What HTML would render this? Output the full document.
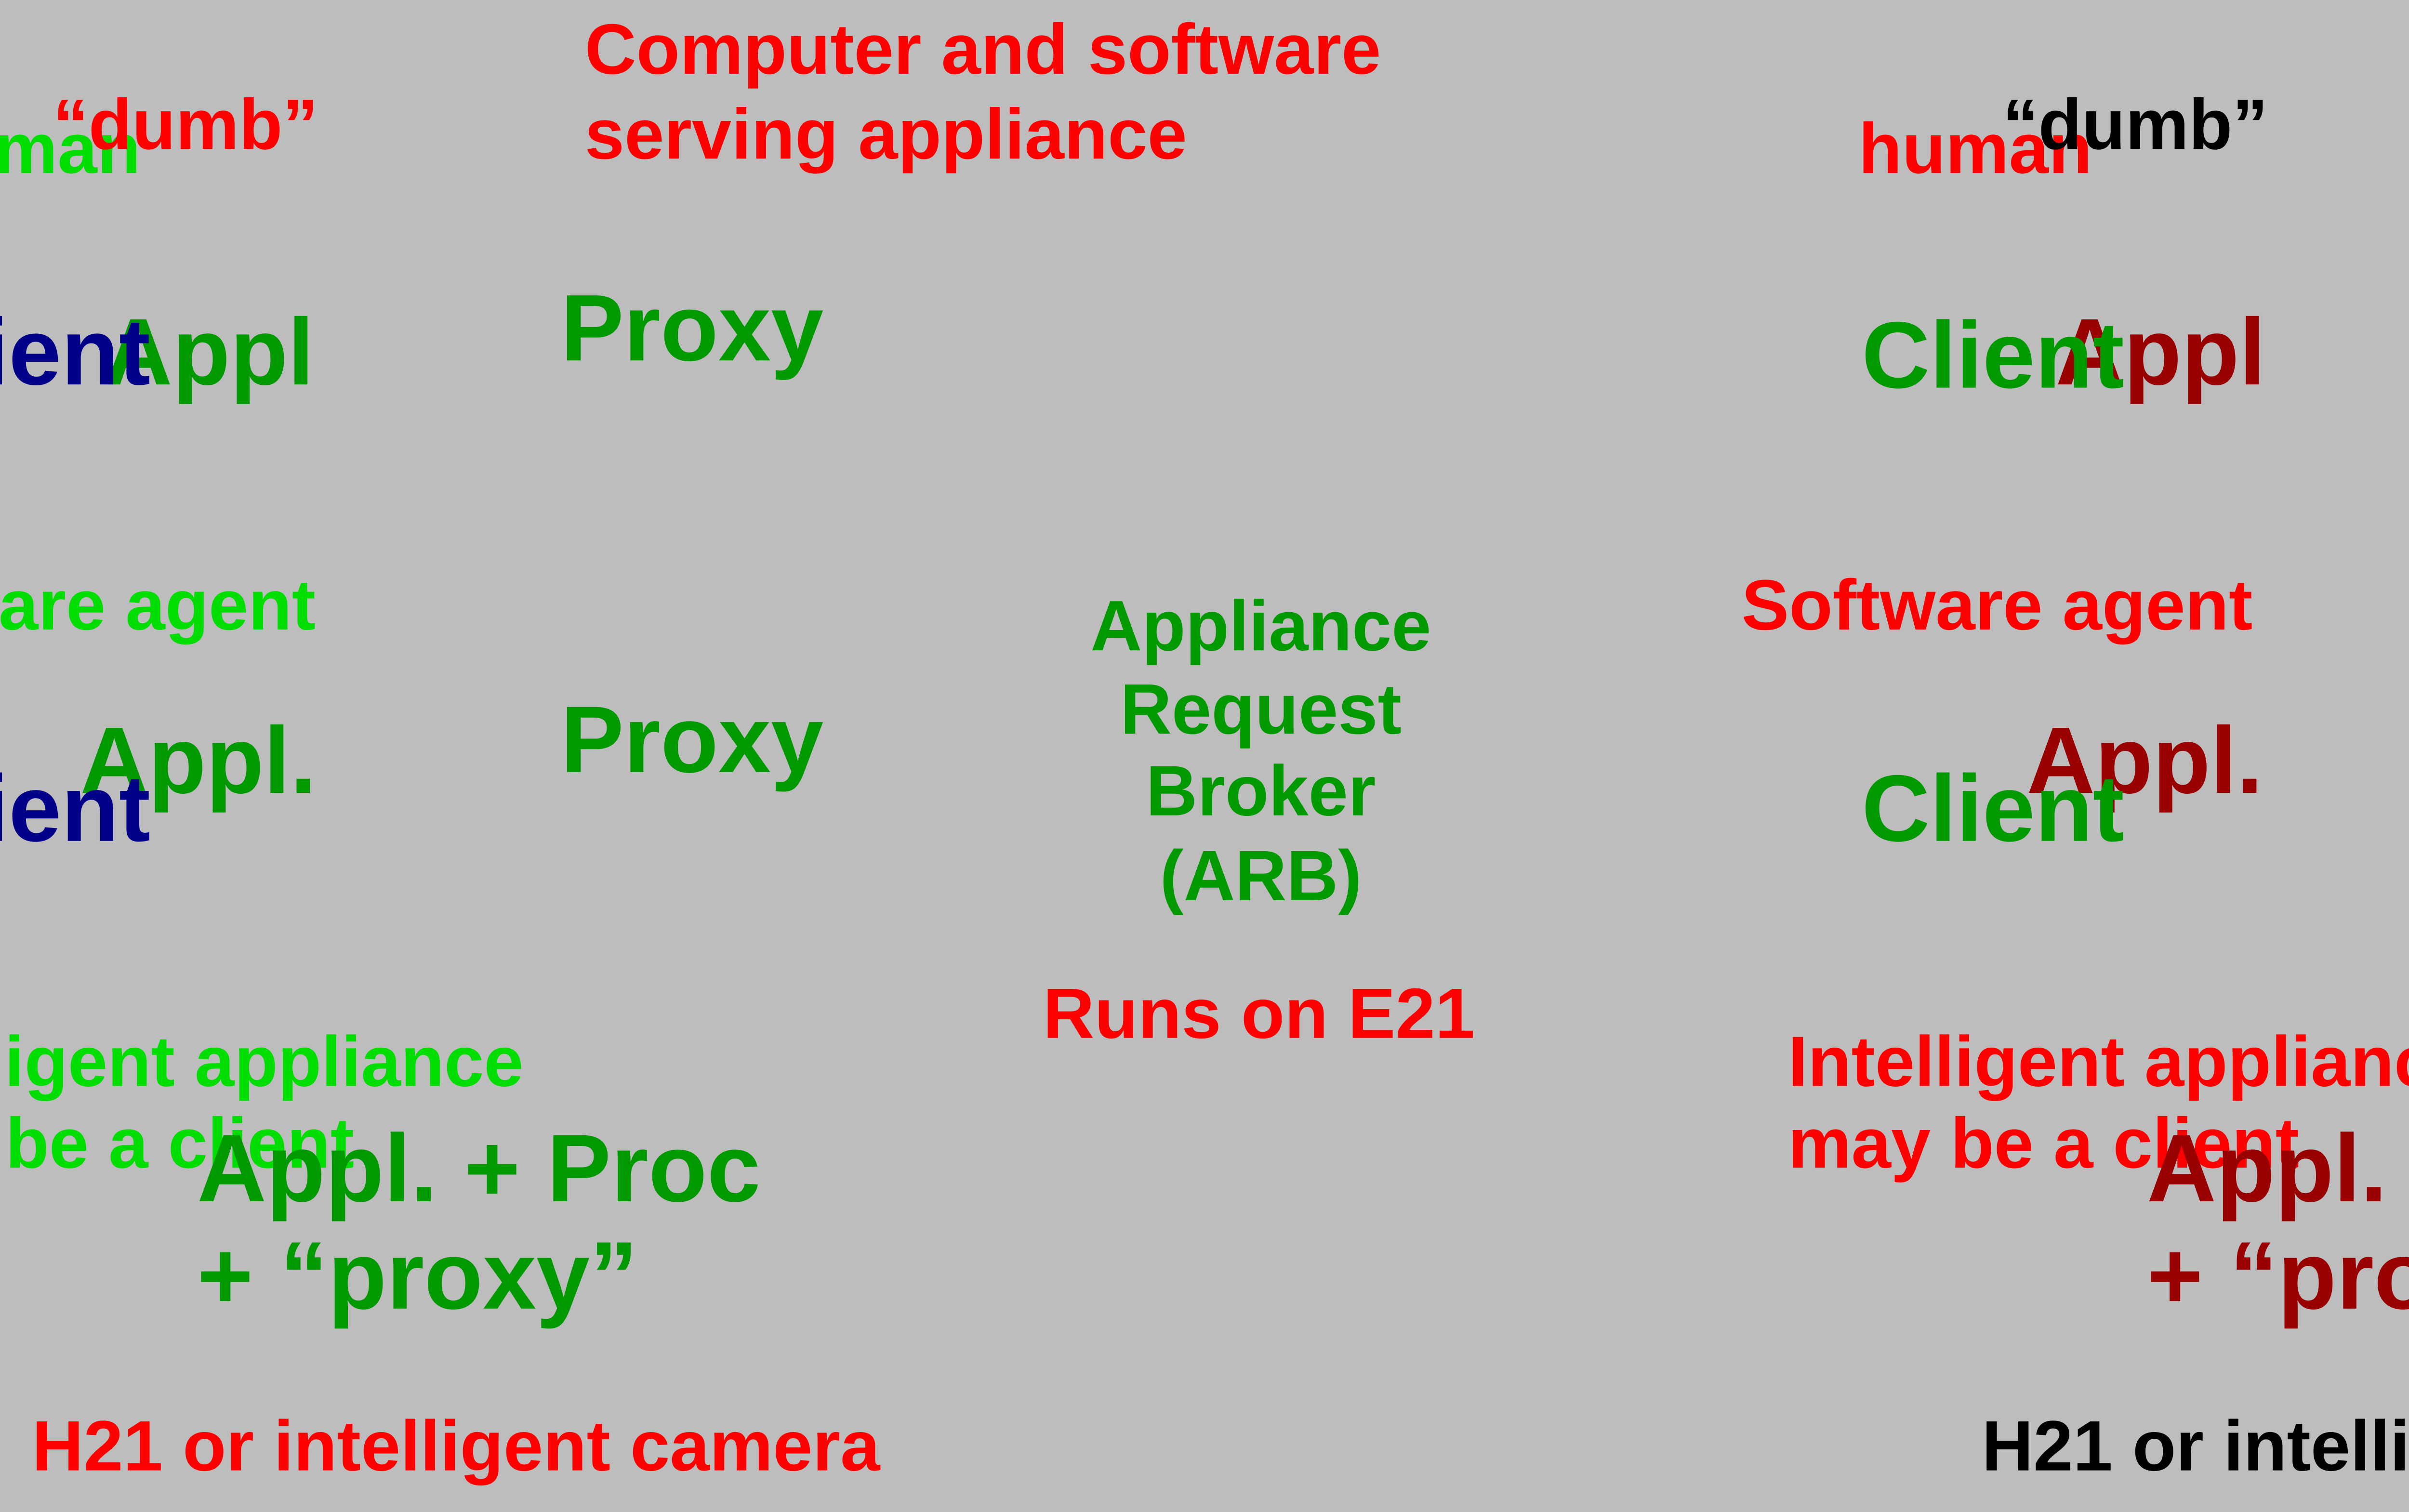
<!DOCTYPE html>
<html><head><meta charset="utf-8"><style>
html,body{margin:0;padding:0;width:5214px;height:3139px;overflow:hidden;background:#bdbdbd;}
#w{position:absolute;left:0;top:0;width:1568px;height:944px;transform:scale(3.3253);transform-origin:0 0;font-family:"Liberation Sans",Arial,sans-serif;font-weight:bold;}
.t{position:absolute;white-space:nowrap;line-height:1;}
.s{font-size:44.5px}.b{font-size:59px}.bb{font-size:60px}
.r{color:#ff0000}.g{color:#009900}.lg{color:#00dd00}.bl{color:#000088}.dr{color:#990000}.k{color:#000}
</style></head><body><div id="w">
<div class="t s r" style="left:365px;top:10px">Computer and software</div>
<div class="t s r" style="left:365px;top:63px">serving appliance</div>
<div class="t s lg" style="left:-58px;top:72px">human</div>
<div class="t s r" style="left:33px;top:57px">“dumb”</div>
<div class="t b g" style="left:65px;top:191px">Appl</div>
<div class="t b bl" style="left:-70px;top:191px">Client</div>
<div class="t b g" style="left:350px;top:176px">Proxy</div>
<div class="t s r" style="left:1160px;top:72px">human</div>
<div class="t s k" style="left:1250px;top:57px">“dumb”</div>
<div class="t b dr" style="left:1283px;top:191px">Appl</div>
<div class="t b g" style="left:1162px;top:193px">Client</div>
<div class="t s lg" style="left:-122px;top:357px">Software agent</div>
<div class="t b g" style="left:50px;top:446px">Appl.</div>
<div class="t b bl" style="left:-70px;top:476px">Client</div>
<div class="t b g" style="left:350px;top:433px">Proxy</div>
<div class="t s g" style="left:587px;width:400px;text-align:center;top:370px">Appliance</div>
<div class="t s g" style="left:587px;width:400px;text-align:center;top:422px">Request</div>
<div class="t s g" style="left:587px;width:400px;text-align:center;top:473px">Broker</div>
<div class="t s g" style="left:587px;width:400px;text-align:center;top:526px">(ARB)</div>
<div class="t s r" style="left:1087px;top:357px">Software agent</div>
<div class="t b dr" style="left:1265px;top:446px">Appl.</div>
<div class="t b g" style="left:1162px;top:476px">Client</div>
<div class="t s r" style="left:651px;top:612px">Runs on E21</div>
<div class="t s lg" style="left:-101px;top:642px">Intelligent appliance</div>
<div class="t s lg" style="left:-98px;top:693px">may be a client</div>
<div class="t bb g" style="left:123px;top:700px">Appl. + Proc</div>
<div class="t bb g" style="left:123px;top:767px">+ “proxy”</div>
<div class="t s r" style="left:1116px;top:642px">Intelligent appliance</div>
<div class="t s r" style="left:1116px;top:693px">may be a client</div>
<div class="t bb dr" style="left:1340px;top:700px">Appl. + Proc</div>
<div class="t bb dr" style="left:1340px;top:767px">+ “proxy”</div>
<div class="t s r" style="left:20px;top:882px">H21 or intelligent camera</div>
<div class="t s k" style="left:1237px;top:882px">H21 or intelligent camera</div>
</div></body></html>
